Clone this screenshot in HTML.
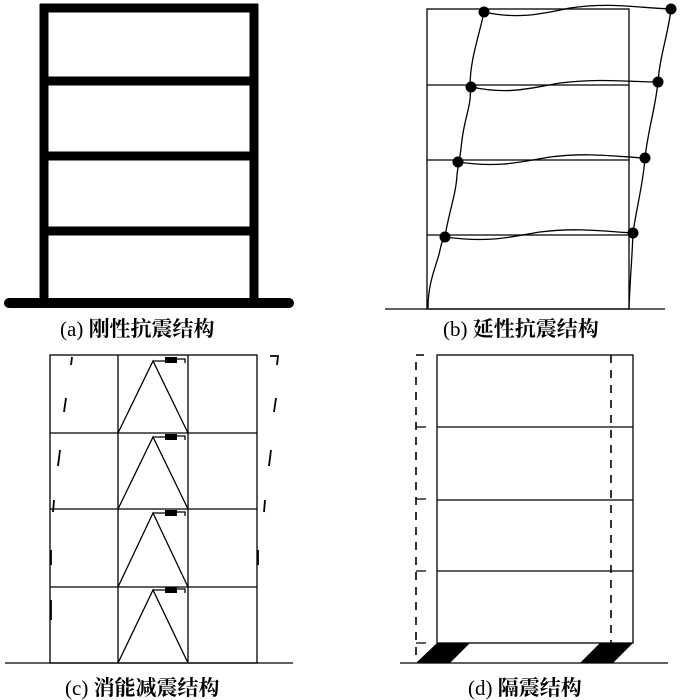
<!DOCTYPE html>
<html><head><meta charset="utf-8"><style>
html,body{margin:0;padding:0;background:#fff;width:684px;height:700px;overflow:hidden}
.l{position:absolute;font-family:"Liberation Serif","Noto Serif CJK SC",serif;font-size:21px;font-weight:bold;line-height:22px;color:#000;white-space:nowrap}
.l span{font-weight:normal}
</style></head><body>
<svg width="684" height="700" style="position:absolute;left:0;top:0" fill="none" stroke="#000">
<!-- (a) -->
<g stroke-width="9" stroke-linecap="butt">
<line x1="44" y1="4" x2="44" y2="302"/><line x1="254" y1="4" x2="254" y2="302"/>
<line x1="40" y1="8" x2="258" y2="8"/><line x1="44" y1="81" x2="254" y2="81"/>
<line x1="44" y1="156" x2="254" y2="156"/><line x1="44" y1="231" x2="254" y2="231"/>
<line x1="9" y1="303" x2="289" y2="303" stroke-linecap="round" stroke-width="10"/>
</g>
<!-- (b) -->
<g stroke-width="1.3">
<rect x="427" y="9" width="202" height="300"/>
<line x1="427" y1="85" x2="629" y2="85"/><line x1="427" y1="160" x2="629" y2="160"/><line x1="427" y1="235" x2="629" y2="235"/>
<line x1="385" y1="309" x2="665" y2="309"/>
<path d="M428 308 C428 280 438 262 440 250 C442 240 444 238 445 237 C448 215 456 195 457 175 C458 165 460 160 462 140 C465 115 472 105 470 87 C470 60 478 40 484 12"/>
<path d="M629 308 C630 280 632 260 633 233 C636 210 643 185 645 158 C648 130 655 110 658 82 C660 55 668 35 671 9"/>
<path d="M484 12 C520 20 545 13 570 8 C610 2 640 8 671 9"/>
<path d="M471 87 C510 95 530 88 560 83 C600 78 630 82 658 82"/>
<path d="M458 162 C500 168 520 162 550 157 C590 152 620 157 645 158"/>
<path d="M445 237 C490 243 510 237 540 232 C580 227 610 232 633 233"/>
</g>
<g fill="#000" stroke="none">
<circle cx="484" cy="12" r="5.5"/><circle cx="671" cy="9" r="5.5"/>
<circle cx="471" cy="87" r="5.5"/><circle cx="658" cy="82" r="5.5"/>
<circle cx="458" cy="162" r="5.5"/><circle cx="645" cy="158" r="5.5"/>
<circle cx="445" cy="237" r="5.5"/><circle cx="633" cy="233" r="5.5"/>
</g>
<!-- (c) -->
<g stroke-width="1.3">
<rect x="50" y="355" width="207" height="308"/>
<line x1="118" y1="355" x2="118" y2="663"/><line x1="188" y1="355" x2="188" y2="663"/>
<line x1="50" y1="433" x2="257" y2="433"/><line x1="50" y1="509" x2="257" y2="509"/><line x1="50" y1="587" x2="257" y2="587"/>
<line x1="5" y1="663" x2="293" y2="663"/>
<path d="M118 433 L153 361 L188 433 M118 509 L153 437 L188 509 M118 587 L153 513 L188 587 M118 663 L153 590 L188 663"/>
<path d="M153 361 H165 M177 359 H185 V363 M153 437 H165 M177 436 H185 V440 M153 513 H165 M177 512 H185 V516 M153 590 H165 M177 589 H185 V593"/>
</g>
<g stroke-width="1.8">
<path d="M72 357 L71 365 M66 398 L64 412 M60 450 L58 466 M54 500 L53 512 M51 550 L51 565 M51 600 L51 620"/>
<path d="M270 356 H278 L277 365 M276 398 L274 412 M271 450 L269 466 M265 500 L264 512 M258 550 L258 565"/>
</g>
<g fill="#000" stroke="none">
<rect x="165" y="357" width="12" height="6"/><rect x="165" y="434" width="12" height="6"/>
<rect x="165" y="510" width="12" height="6"/><rect x="165" y="587" width="12" height="6"/>
</g>
<!-- (d) -->
<g stroke-width="1.3">
<rect x="437" y="355" width="196" height="288"/>
<line x1="437" y1="427" x2="633" y2="427"/><line x1="437" y1="500" x2="633" y2="500"/><line x1="437" y1="571" x2="633" y2="571"/>
<line x1="400" y1="663" x2="668" y2="663"/>
<path d="M424 355 H416 V662" stroke-dasharray="8,7" stroke-width="1.6"/>
<path d="M611 355 V643" stroke-dasharray="8,7" stroke-width="1.6"/>
<path d="M416 427 H426 M416 499 H426 M416 571 H426 M416 643 H426"/>
</g>
<g fill="#000" stroke="none">
<polygon points="437,643 470,643 450,663 416,663"/>
<polygon points="600,643 633,643 613,663 580,663"/>
</g>
</svg>
<div class="l" style="left:60px;top:318px"><span>(a)</span> 刚性抗震结构</div>
<div class="l" style="left:443px;top:318px"><span>(b)</span> 延性抗震结构</div>
<div class="l" style="left:65px;top:677px"><span>(c)</span> 消能减震结构</div>
<div class="l" style="left:468px;top:677px"><span>(d)</span> 隔震结构</div>
</body></html>
